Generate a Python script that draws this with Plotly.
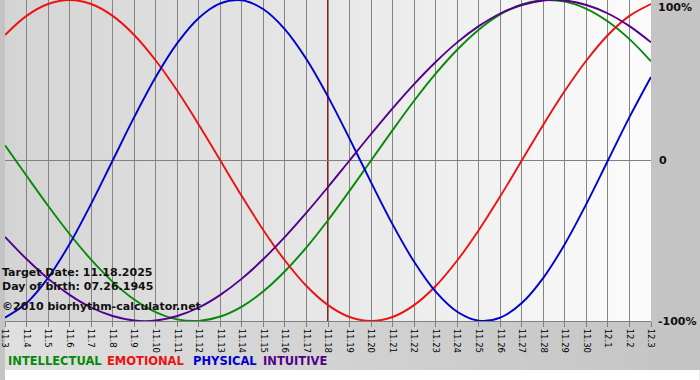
import plotly.graph_objects as go

# ---- data ----
dates = ["11.3", "11.4", "11.5", "11.6", "11.7", "11.8", "11.9", "11.10", "11.11", "11.12",
         "11.13", "11.14", "11.15", "11.16", "11.17", "11.18", "11.19", "11.20", "11.21", "11.22",
         "11.23", "11.24", "11.25", "11.26", "11.27", "11.28", "11.29", "11.30", "12.1", "12.2", "12.3"]

physical = [-0.979, -0.888, -0.731, -0.520, -0.270, 0.0, 0.270, 0.520, 0.731, 0.888,
            0.979, 0.998, 0.942, 0.817, 0.631, 0.398, 0.136, -0.136, -0.398, -0.631,
            -0.817, -0.942, -0.998, -0.979, -0.888, -0.731, -0.520, -0.270, 0.0, 0.270, 0.520]

emotional = [0.782, 0.901, 0.975, 1.0, 0.975, 0.901, 0.782, 0.623, 0.434, 0.223,
             0.0, -0.223, -0.434, -0.623, -0.782, -0.901, -0.975, -1.0, -0.975, -0.901,
             -0.782, -0.623, -0.434, -0.223, 0.0, 0.223, 0.434, 0.623, 0.782, 0.901, 0.975]

intellectual = [0.095, -0.095, -0.282, -0.458, -0.618, -0.756, -0.866, -0.945, -0.990, -0.999,
                -0.972, -0.910, -0.815, -0.690, -0.541, -0.372, -0.189, 0.0, 0.189, 0.372,
                0.541, 0.690, 0.815, 0.910, 0.972, 0.999, 0.990, 0.945, 0.866, 0.756, 0.618]

intuitive = [-0.476, -0.614, -0.736, -0.837, -0.916, -0.969, -0.997, -0.997, -0.969, -0.916,
             -0.837, -0.736, -0.614, -0.476, -0.325, -0.165, 0.0, 0.165, 0.325, 0.476,
             0.614, 0.736, 0.837, 0.916, 0.969, 0.997, 0.997, 0.969, 0.916, 0.837, 0.736]

target_label = "11.18"
info_lines = ["Target Date: 11.18.2025", "Day of birth: 07.26.1945", "©2010 biorhythm-calculator.net"]
legend_names = ["INTELLECTUAL", "EMOTIONAL", "PHYSICAL", "INTUITIVE"]
y_labels = ["100%", "0", "-100%"]

# ---- styling ----
FONT = "DejaVu Sans"
W, H = 700, 380
ML, MR, MT, MB = 0, 49, 0, 59
PW = W - ML - MR   # 651
PH = H - MT - MB   # 321
colors = {"INTELLECTUAL": "#088a08", "EMOTIONAL": "#ee1111", "PHYSICAL": "#0000d0", "INTUITIVE": "#55008c"}

fig = go.Figure()
series = [("INTELLECTUAL", intellectual), ("EMOTIONAL", emotional),
          ("PHYSICAL", physical), ("INTUITIVE", intuitive)]
for name, vals in series:
    fig.add_trace(go.Scatter(x=dates, y=vals, mode="lines", name=name,
                             line=dict(color=colors[name], width=1.9, shape="spline", smoothing=1.0),
                             hoverinfo="skip", showlegend=False))

shapes = []
n = len(dates) - 1
# plot background gradient (left grey -> right white)
NS = 60
for i in range(NS):
    f = (i + 0.5) / NS
    c = int(212 + f * (252 - 212))
    shapes.append(dict(type="rect", xref="x", yref="paper",
                       x0=max(0, n * i / NS - 0.01), x1=n * (i + 1) / NS + 0.02, y0=0, y1=1,
                       fillcolor=f"rgb({c},{c},{c})", line=dict(width=0), layer="below"))
# bottom band gradient
NB = 40
xmax = W / PW
for i in range(NB):
    f = (i + 0.5) / NB
    c = int(224 - f * (224 - 196))
    shapes.append(dict(type="rect", xref="paper", yref="paper",
                       x0=xmax * i / NB, x1=xmax * (i + 1) / NB + 0.003,
                       y0=-49 / PH, y1=0,
                       fillcolor=f"rgb({c},{c},{c})", line=dict(width=0), layer="below"))
# white strip at very bottom
shapes.append(dict(type="rect", xref="paper", yref="paper", x0=0, x1=xmax,
                   y0=-MB / PH, y1=-49 / PH, fillcolor="white", line=dict(width=0), layer="below"))
# target day marker
shapes.append(dict(type="line", xref="x", yref="paper", x0=dates.index(target_label),
                   x1=dates.index(target_label), y0=0, y1=1,
                   line=dict(color="#a01818", width=2), layer="between"))

annotations = []
# right-side axis labels
for txt, yv in zip(y_labels, [(PH - 7) / PH, (PH - 161) / PH, 0.0]):
    annotations.append(dict(text=f"<b>{txt}</b>", xref="paper", yref="paper",
                            x=(656 if txt != "0" else 657) / PW, y=yv,
                            xanchor="left", yanchor="middle", showarrow=False,
                            font=dict(family=FONT, size=11, color="#111111")))
# info text
for txt, py in zip(info_lines, [272, 286, 306.5]):
    annotations.append(dict(text=f"<b>{txt}</b>", xref="paper", yref="paper",
                            x=-5 / PW, y=(PH - py) / PH, xanchor="left", yanchor="middle",
                            showarrow=False, font=dict(family=FONT, size=11, color="#111111")))
# legend
for name, px in zip(legend_names, [1, 101, 187, 258]):
    annotations.append(dict(text=f"<b>{name}</b>", xref="paper", yref="paper",
                            x=px / PW, y=(PH - 361) / PH, xanchor="left", yanchor="middle",
                            showarrow=False, font=dict(family=FONT, size=11.5, color=colors[name])))

fig.update_layout(
    width=W, height=H,
    margin=dict(l=ML, r=MR, t=MT, b=MB, pad=0),
    paper_bgcolor="#c4c4c4",
    plot_bgcolor="#e8e8e8",
    shapes=shapes, annotations=annotations,
    xaxis=dict(type="category", range=[0, n], showgrid=True, gridcolor="#858585", gridwidth=1,
               showline=True, linecolor="#808080", linewidth=1,
               ticks="outside", ticklen=5, tickcolor="#808080", tickangle=90,
               tickfont=dict(family=FONT, size=8.5, color="#000000"), zeroline=False,
               fixedrange=True),
    yaxis=dict(range=[-1, 1], showgrid=False, zeroline=True, zerolinecolor="#808080",
               zerolinewidth=1, showticklabels=False, ticks="", fixedrange=True),
)

fig.write_html("out.html", config={"displayModeBar": False},
               post_script="document.body.style.margin='0';document.body.style.overflow='hidden';")
